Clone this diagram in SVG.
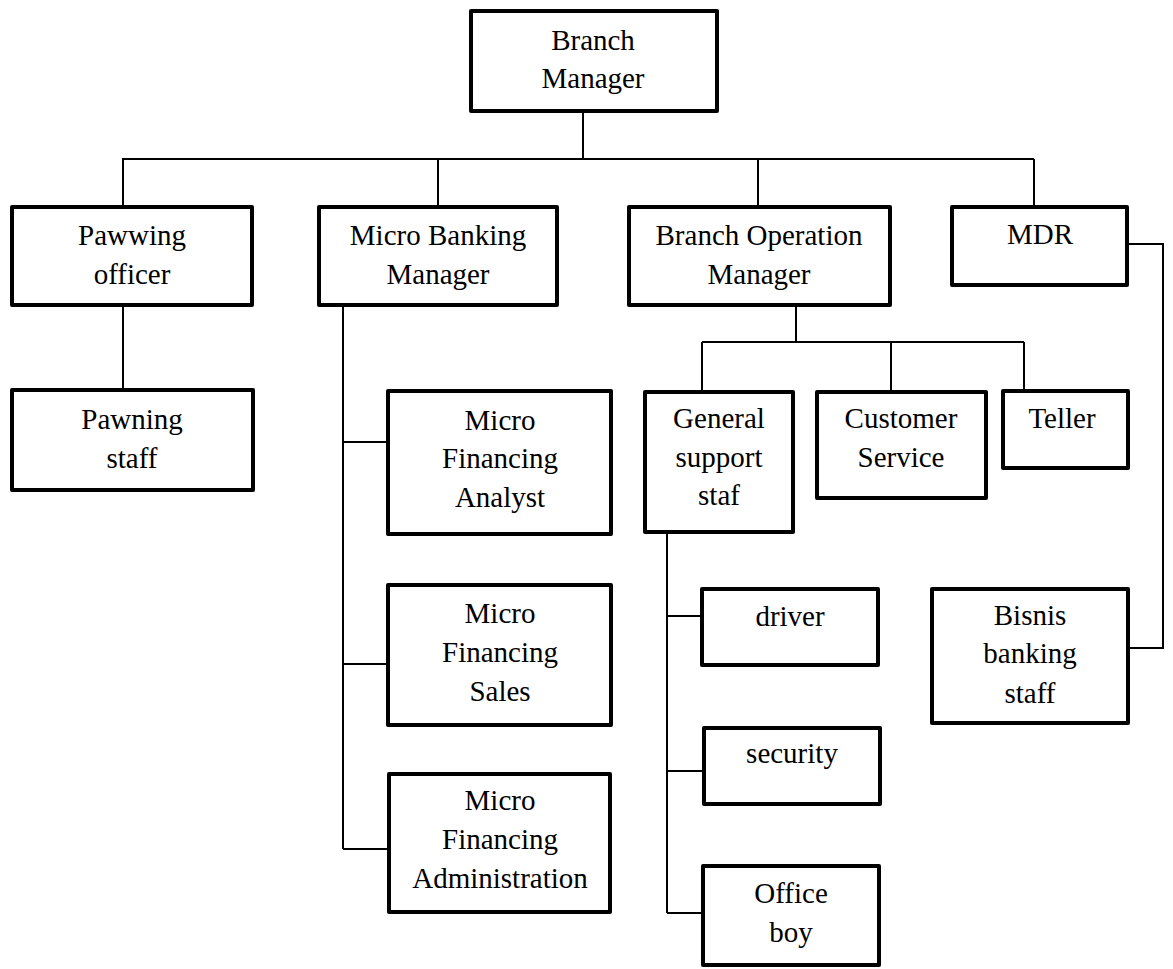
<svg xmlns="http://www.w3.org/2000/svg" width="1173" height="969" viewBox="0 0 1173 969">
<style>
.box{fill:#fff;stroke:#000;stroke-width:4;stroke-linejoin:round}
.lbl{font-family:"Liberation Serif","Times New Roman",serif;font-size:29px;fill:#000;text-anchor:middle}
.conn path{fill:none;stroke:#000;stroke-width:2}
</style>
<rect width="1173" height="969" fill="#fff"/>
<g id="connectors" class="conn">
<path d="M583 113 V159"/>
<path d="M122 159 H1034"/>
<path d="M123 159 V205"/>
<path d="M438 159 V205"/>
<path d="M758 159 V205"/>
<path d="M1034 159 V205"/>
<path d="M123 307 V388"/>
<path d="M343 307 V849"/>
<path d="M343 442 H386"/>
<path d="M343 664 H386"/>
<path d="M343 849 H387"/>
<path d="M796 307 V342"/>
<path d="M702 342 H1024"/>
<path d="M702 342 V390"/>
<path d="M891 342 V390"/>
<path d="M1024 342 V389"/>
<path d="M667 534 V913"/>
<path d="M667 616 H700"/>
<path d="M667 771 H702"/>
<path d="M667 913 H701"/>
<path d="M1129 244 H1163 V648 H1130"/>
</g>
<g id="branch-manager"><rect class="box" x="471" y="11" width="246" height="100"/><text class="lbl" x="593" y="50">Branch</text><text class="lbl" x="593" y="88">Manager</text></g>
<g id="pawwing-officer"><rect class="box" x="12" y="207" width="240" height="98"/><text class="lbl" x="132" y="245">Pawwing</text><text class="lbl" x="132" y="284">officer</text></g>
<g id="micro-banking-manager"><rect class="box" x="319" y="207" width="238" height="98"/><text class="lbl" x="438" y="245">Micro Banking</text><text class="lbl" x="438" y="284">Manager</text></g>
<g id="branch-operation-manager"><rect class="box" x="629" y="207" width="261" height="98"/><text class="lbl" x="759" y="245">Branch Operation</text><text class="lbl" x="759" y="284">Manager</text></g>
<g id="mdr"><rect class="box" x="952" y="207" width="175" height="78"/><text class="lbl" x="1040" y="244">MDR</text></g>
<g id="pawning-staff"><rect class="box" x="12" y="390" width="241" height="100"/><text class="lbl" x="132" y="429">Pawning</text><text class="lbl" x="132" y="468">staff</text></g>
<g id="mf-analyst"><rect class="box" x="388" y="391" width="223" height="143"/><text class="lbl" x="500" y="430">Micro</text><text class="lbl" x="500" y="468">Financing</text><text class="lbl" x="500" y="507">Analyst</text></g>
<g id="mf-sales"><rect class="box" x="388" y="585" width="223" height="140"/><text class="lbl" x="500" y="623">Micro</text><text class="lbl" x="500" y="662">Financing</text><text class="lbl" x="500" y="701">Sales</text></g>
<g id="mf-administration"><rect class="box" x="389" y="774" width="221" height="138"/><text class="lbl" x="500" y="810">Micro</text><text class="lbl" x="500" y="849">Financing</text><text class="lbl" x="500" y="888">Administration</text></g>
<g id="general-support"><rect class="box" x="645" y="392" width="148" height="140"/><text class="lbl" x="719" y="428">General</text><text class="lbl" x="719" y="467">support</text><text class="lbl" x="719" y="505">staf</text></g>
<g id="customer-service"><rect class="box" x="817" y="392" width="169" height="106"/><text class="lbl" x="901" y="428">Customer</text><text class="lbl" x="901" y="467">Service</text></g>
<g id="teller"><rect class="box" x="1003" y="391" width="125" height="77"/><text class="lbl" x="1062" y="428">Teller</text></g>
<g id="driver"><rect class="box" x="702" y="589" width="176" height="76"/><text class="lbl" x="790" y="626">driver</text></g>
<g id="security"><rect class="box" x="704" y="728" width="176" height="76"/><text class="lbl" x="792" y="763">security</text></g>
<g id="office-boy"><rect class="box" x="703" y="866" width="176" height="99"/><text class="lbl" x="791" y="903">Office</text><text class="lbl" x="791" y="942">boy</text></g>
<g id="bisnis-banking-staff"><rect class="box" x="932" y="589" width="196" height="134"/><text class="lbl" x="1030" y="625">Bisnis</text><text class="lbl" x="1030" y="663">banking</text><text class="lbl" x="1030" y="703">staff</text></g>
</svg>
